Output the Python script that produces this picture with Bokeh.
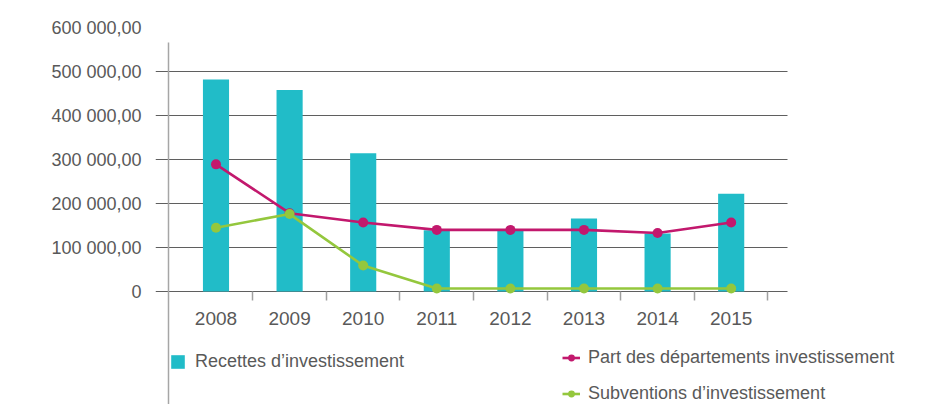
from bokeh.plotting import figure
from bokeh.models import (Range1d, FixedTicker, LinearAxis, Legend, LegendItem,
                          ColumnDataSource)
from bokeh.embed import file_html
from bokeh.resources import INLINE

# ---- data ----
years = ["2008", "2009", "2010", "2011", "2012", "2013", "2014", "2015"]
recettes = [482000, 458000, 314000, 139000, 139000, 166000, 132000, 222000]
departements = [289000, 178000, 157000, 140000, 140000, 140000, 133000, 157000]
subventions = [145000, 176000, 59000, 7000, 7000, 7000, 7000, 7000]
y_ticks = [0, 100000, 200000, 300000, 400000, 500000, 600000]
y_tick_labels = ["0", "100 000,00", "200 000,00", "300 000,00", "400 000,00",
                 "500 000,00", "600 000,00"]
series_names = ["Recettes d\u2019investissement", "Part des d\u00e9partements investissement",
                "Subventions d\u2019investissement"]

idx = list(range(len(years)))
src = ColumnDataSource(dict(x=idx, year=years, rec=recettes, dep=departements, sub=subventions))

FONT = "Liberation Sans"
TXT = "#595959"
TEAL = "#21BCC8"
MAGENTA = "#C2186D"
GREEN = "#94C73D"

X_START, X_GRID_END, X_END = -0.822, 7.765, 9.776
Y_START, Y_END = -256800, 600000

p = figure(width=935, height=404, output_backend="svg", toolbar_location=None,
           x_range=Range1d(X_START, X_END), y_range=Range1d(Y_START, Y_END),
           x_axis_location=None, y_axis_location=None,
           min_border_left=155, min_border_right=0, min_border_top=27, min_border_bottom=0)
p.outline_line_color = None
p.background_fill_color = "white"
p.border_fill_color = "white"

# y axis (labels only)
yax = LinearAxis(ticker=FixedTicker(ticks=y_ticks),
                 major_label_overrides={t: l for t, l in zip(y_ticks, y_tick_labels)})
yax.axis_line_color = None
yax.major_tick_line_color = None
yax.major_tick_out = 0
yax.major_tick_in = 0
yax.minor_tick_line_color = None
yax.major_label_standoff = 14
yax.major_label_text_font = FONT
yax.major_label_text_font_size = "18px"
yax.major_label_text_color = TXT
p.add_layout(yax, "left")

# horizontal gridlines, limited in the cross dimension
p.ygrid.ticker = FixedTicker(ticks=y_ticks)
p.ygrid.grid_line_color = "#5f5f5f"
p.ygrid.grid_line_width = 1.2
p.ygrid.cross_bounds = (X_START, X_GRID_END)
p.xgrid.grid_line_color = None

# vertical axis line (no ticks / labels)
vax = LinearAxis(fixed_location=-0.645, bounds=(Y_START, 565900),
                 ticker=FixedTicker(ticks=[]))
vax.axis_line_color = "#a6a6a6"
vax.axis_line_width = 1.5
vax.major_tick_line_color = None
vax.minor_tick_line_color = None
vax.major_label_text_alpha = 0
p.add_layout(vax, "left")

# x axis: year labels at category centres, fixed at y = 0
xax = LinearAxis(fixed_location=0, ticker=FixedTicker(ticks=idx),
                 major_label_overrides={i: y for i, y in zip(idx, years)})
xax.axis_line_color = None
xax.major_tick_line_color = None
xax.major_tick_out = 0
xax.major_tick_in = 0
xax.minor_tick_line_color = None
xax.major_label_standoff = 20
xax.major_label_text_font = FONT
xax.major_label_text_font_size = "19px"
xax.major_label_text_color = TXT
p.add_layout(xax, "below")

# x axis: tick marks between categories
xax2 = LinearAxis(fixed_location=0, ticker=FixedTicker(ticks=[i + 0.5 for i in idx]))
xax2.axis_line_color = None
xax2.major_tick_line_color = "#a0a0a0"
xax2.major_tick_line_width = 1.5
xax2.major_tick_out = 9
xax2.major_tick_in = 0
xax2.minor_tick_line_color = None
xax2.major_label_text_alpha = 0
xax2.major_label_text_font_size = "1px"
p.add_layout(xax2, "below")

bars = p.vbar(x="x", top="rec", width=0.355, source=src, fill_color=TEAL, line_color=None)
l1 = p.line("x", "dep", source=src, line_color=MAGENTA, line_width=2.6)
s1 = p.scatter("x", "dep", source=src, size=10, fill_color=MAGENTA, line_color=None)
l2 = p.line("x", "sub", source=src, line_color=GREEN, line_width=2.6)
s2 = p.scatter("x", "sub", source=src, size=10, fill_color=GREEN, line_color=None)


def style_legend(lg):
    lg.label_text_font = FONT
    lg.label_text_font_size = "18px"
    lg.label_text_color = TXT
    lg.background_fill_alpha = 0
    lg.border_line_color = None
    lg.padding = 0
    lg.margin = 0
    lg.label_height = 20
    lg.glyph_height = 17
    lg.click_policy = "none"


leg1 = Legend(items=[LegendItem(label=series_names[0], renderers=[bars])],
              location=(14, 32), glyph_width=17, label_standoff=9)
style_legend(leg1)
p.add_layout(leg1, "center")

leg2 = Legend(items=[LegendItem(label=series_names[1], renderers=[l1, s1]),
                     LegendItem(label=series_names[2], renderers=[l2, s2])],
              location=(407, 0), glyph_width=18, label_standoff=8, spacing=15)
style_legend(leg2)
p.add_layout(leg2, "center")

open("out.html", "w").write(file_html(p, INLINE))
